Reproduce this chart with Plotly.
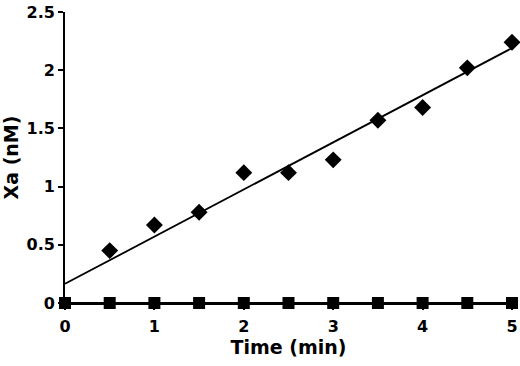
import numpy as np
import plotly.graph_objects as go

time_diamond = [0.5, 1, 1.5, 2, 2.5, 3, 3.5, 4, 4.5, 5]
xa_diamond = [0.45, 0.67, 0.78, 1.12, 1.12, 1.23, 1.57, 1.68, 2.02, 2.24]
time_square = [0, 0.5, 1, 1.5, 2, 2.5, 3, 3.5, 4, 4.5, 5]
xa_square = [0, 0, 0, 0, 0, 0, 0, 0, 0, 0, 0]
fit_x = [0, 5]
fit_intercept = 0.165
fit_slope = 0.405
fit_y = [fit_intercept + fit_slope * x for x in fit_x]

x_ticks = [0, 1, 2, 3, 4, 5]
y_ticks = [0, 0.5, 1, 1.5, 2, 2.5]
y_ticklabels = ["0", "0.5", "1", "1.5", "2", "2.5"]

font = dict(family="DejaVu Sans, sans-serif", color="black", weight="bold")

fig = go.Figure()
fig.add_trace(go.Scatter(x=fit_x, y=fit_y, mode="lines",
                         line=dict(color="black", width=1.8), cliponaxis=False))
fig.add_trace(go.Scatter(x=time_square, y=xa_square, mode="lines+markers",
                         line=dict(color="black", width=1.8),
                         marker=dict(symbol="square", size=12, color="black"),
                         cliponaxis=False))
fig.add_trace(go.Scatter(x=time_diamond, y=xa_diamond, mode="markers",
                         marker=dict(symbol="diamond", size=13, color="black"),
                         cliponaxis=False))

fig.update_layout(
    width=520, height=366,
    margin=dict(l=65, r=8, t=12, b=63),
    paper_bgcolor="white", plot_bgcolor="white",
    showlegend=False,
    font=dict(size=16, **font),
)
fig.update_xaxes(
    range=[0, 5], tickvals=x_ticks, ticktext=[str(t) for t in x_ticks],
    showline=True, linecolor="black", linewidth=1.8,
    ticks="outside", ticklen=5, tickwidth=1.8, tickcolor="black",
    ticklabelstandoff=3, ticklabeloverflow="allow",
    showgrid=False, zeroline=False, automargin=False,
    tickfont=dict(size=16, **font),
    title=dict(text="Time (min)", font=dict(size=19, **font), standoff=4),
)
fig.update_yaxes(
    range=[0, 2.5], tickvals=y_ticks, ticktext=y_ticklabels,
    showline=True, linecolor="black", linewidth=1.8,
    ticks="outside", ticklen=5, tickwidth=1.8, tickcolor="black",
    ticklabeloverflow="allow",
    showgrid=False, zeroline=False, automargin=False,
    tickfont=dict(size=16, **font),
    title=dict(text="Xa (nM)", font=dict(size=19, **font), standoff=8),
)
fig.write_html("out.html", config={"displayModeBar": False},
               post_script="document.body.style.margin='0';document.body.style.overflow='hidden';")
